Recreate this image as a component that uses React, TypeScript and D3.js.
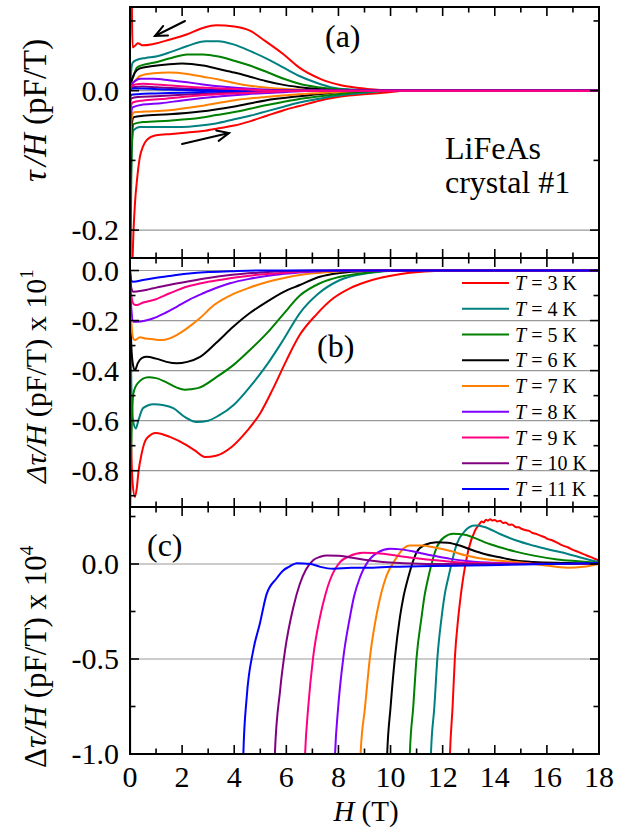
import React from 'react';
import * as d3 from 'd3';

type Pt = [number, number];

// ---- series meta ----
const temps = [3, 4, 5, 6, 7, 8, 9, 10, 11];
const colors = ['#ff0000', '#008080', '#008000', '#000000', '#ff8000', '#8000ff', '#ff0080', '#800080', '#0000ff'];

// ---- panel (a): torque / H, decreasing-field branch ----
const up3: Pt[] = [[0.06, 0.2], [0.075, 0.11], [0.1, 0.062], [0.18, 0.064], [0.3, 0.068], [0.5, 0.065], [0.9, 0.067], [1.5, 0.073], [2.2, 0.081], [2.8, 0.09], [3.3, 0.094], [4.0, 0.092], [4.6, 0.086], [5.2, 0.071], [5.9, 0.052], [6.5, 0.033], [7.3, 0.017], [8.06, 0.008], [9.1, 0.0025], [10.4, 0], [18, 0]];
const up4: Pt[] = [[0, 0], [0.05, 0.03], [0.1, 0.04], [0.25, 0.044], [0.6, 0.047], [1.0, 0.049], [1.6, 0.056], [2.2, 0.064], [2.9, 0.071], [3.4, 0.071], [4.0, 0.066], [4.6, 0.057], [5.3, 0.045], [5.9, 0.033], [6.5, 0.021], [7.1, 0.012], [7.7, 0.005], [8.5, 0.0015], [9.5, 0], [18, 0]];
const up5: Pt[] = [[0, 0], [0.05, 0.012], [0.13, 0.02], [0.26, 0.033], [0.5, 0.037], [0.9, 0.04], [1.5, 0.046], [2.2, 0.052], [2.8, 0.052], [3.4, 0.049], [4.0, 0.043], [4.6, 0.036], [5.3, 0.026], [5.9, 0.017], [6.5, 0.01], [7.2, 0.005], [8.2, 0.0015], [9.2, 0], [18, 0]];
const up6: Pt[] = [[0, 0], [0.05, 0.012], [0.19, 0.026], [0.38, 0.032], [0.8, 0.035], [1.5, 0.038], [2.0, 0.039], [2.8, 0.036], [3.4, 0.031], [4.0, 0.026], [4.6, 0.02], [5.2, 0.014], [5.8, 0.009], [6.5, 0.005], [7.3, 0.002], [8.2, 0], [18, 0]];
const up7: Pt[] = [[0, 0], [0.05, 0.008], [0.19, 0.014], [0.38, 0.021], [0.9, 0.025], [1.5, 0.026], [2.2, 0.024], [2.8, 0.02], [3.4, 0.016], [4.0, 0.011], [4.6, 0.007], [5.4, 0.004], [6.5, 0.0015], [7.5, 0], [18, 0]];
const up8: Pt[] = [[0, 0], [0.05, 0.008], [0.2, 0.014], [0.4, 0.017], [0.9, 0.017], [1.5, 0.015], [2.2, 0.012], [2.8, 0.009], [3.5, 0.006], [4.5, 0.003], [5.5, 0.001], [6.5, 0], [18, 0]];
const up9: Pt[] = [[0, 0], [0.05, 0.006], [0.2, 0.009], [0.5, 0.01], [1.0, 0.009], [1.7, 0.007], [2.5, 0.005], [3.5, 0.003], [4.5, 0.0015], [5.5, 0], [18, 0]];
const up10: Pt[] = [[0, 0], [0.1, 0.005], [0.5, 0.006], [1.0, 0.005], [2.0, 0.003], [3.0, 0.0015], [4.0, 0.0005], [5, 0], [18, 0]];
const up11: Pt[] = [[0, 0], [0.1, 0.003], [0.5, 0.003], [1.5, 0.0015], [3, 0.0005], [4, 0], [18, 0]];

// ---- panel (a): increasing-field branch ----
const lo3: Pt[] = [[0, -0.35], [0.05, -0.3], [0.13, -0.205], [0.19, -0.162], [0.28, -0.124], [0.38, -0.095], [0.5, -0.08], [0.64, -0.071], [1.0, -0.064], [1.6, -0.062], [2.2, -0.06], [2.8, -0.058], [3.4, -0.054], [4.0, -0.05], [4.6, -0.044], [5.25, -0.036], [5.9, -0.028], [6.5, -0.022], [7.3, -0.014], [8.4, -0.007], [9.7, -0.003], [10.6, 0], [18, 0]];
const lo4: Pt[] = [[0, -0.25], [0.03, -0.15], [0.06, -0.09], [0.13, -0.057], [0.38, -0.052], [1.0, -0.052], [2.0, -0.052], [2.7, -0.05], [3.3, -0.047], [4.0, -0.041], [4.6, -0.036], [5.3, -0.029], [5.9, -0.023], [6.5, -0.017], [7.2, -0.012], [8.0, -0.007], [9.0, -0.003], [10, 0], [18, 0]];
const lo5: Pt[] = [[0, -0.3], [0.02, -0.25], [0.05, -0.12], [0.1, -0.055], [0.13, -0.048], [0.5, -0.045], [1.5, -0.043], [2.7, -0.039], [3.3, -0.035], [3.96, -0.031], [4.6, -0.026], [5.2, -0.021], [5.9, -0.016], [6.5, -0.012], [7.3, -0.008], [8.2, -0.004], [9.2, -0.001], [10, 0], [18, 0]];
const lo6: Pt[] = [[0, -0.14], [0.03, -0.08], [0.08, -0.045], [0.15, -0.038], [0.5, -0.036], [1.5, -0.034], [2.7, -0.03], [3.96, -0.023], [5.2, -0.014], [6.5, -0.008], [7.5, -0.004], [8.5, -0.001], [9.5, 0], [18, 0]];
const lo7: Pt[] = [[0, -0.1], [0.03, -0.06], [0.08, -0.035], [0.15, -0.031], [0.6, -0.03], [1.5, -0.028], [2.7, -0.022], [3.96, -0.014], [5.2, -0.009], [6.5, -0.005], [8, -0.002], [9, 0], [18, 0]];
const lo8: Pt[] = [[0, -0.06], [0.04, -0.035], [0.1, -0.024], [0.5, -0.02], [1.2, -0.018], [2.0, -0.014], [2.7, -0.011], [3.5, -0.008], [4.5, -0.005], [6, -0.002], [7, 0], [18, 0]];
const lo9: Pt[] = [[0, -0.04], [0.04, -0.022], [0.1, -0.017], [0.5, -0.014], [1.2, -0.012], [2.0, -0.009], [3, -0.006], [4, -0.004], [5.5, -0.0015], [6.5, 0], [18, 0]];
const lo10: Pt[] = [[0, -0.02], [0.05, -0.011], [0.3, -0.009], [1, -0.008], [2, -0.006], [3, -0.004], [4.5, -0.002], [6, 0], [18, 0]];
const lo11: Pt[] = [[0, -0.01], [0.05, -0.006], [0.3, -0.005], [1, -0.004], [2, -0.003], [3, -0.0015], [4.5, 0], [18, 0]];

// ---- panel (b): hysteresis difference x 10 ----
const b3: Pt[] = [[0, 0], [0.03, -0.6], [0.1, -0.85], [0.19, -0.905], [0.26, -0.87], [0.32, -0.81], [0.45, -0.73], [0.64, -0.671], [1.0, -0.649], [1.53, -0.665], [2.17, -0.698], [2.5, -0.72], [2.88, -0.745], [3.3, -0.74], [3.9, -0.705], [4.5, -0.64], [5.0, -0.57], [5.5, -0.47], [6.0, -0.36], [6.5, -0.26], [7.16, -0.175], [7.8, -0.111], [8.44, -0.071], [9.08, -0.045], [10.4, -0.014], [11.7, -0.002], [12.5, 0], [18, 0]];
const b4: Pt[] = [[0, 0], [0.05, -0.45], [0.12, -0.6], [0.22, -0.631], [0.32, -0.6], [0.5, -0.55], [0.9, -0.534], [1.3, -0.538], [1.66, -0.55], [2.1, -0.585], [2.56, -0.605], [3.0, -0.6], [3.4, -0.58], [4.0, -0.535], [4.6, -0.465], [5.3, -0.37], [5.88, -0.278], [6.52, -0.17], [7.2, -0.095], [8.06, -0.038], [9.1, -0.011], [10.4, 0], [18, 0]];
const b5: Pt[] = [[0, -1.0], [0.05, -0.7], [0.13, -0.491], [0.3, -0.45], [0.7, -0.427], [1.0, -0.43], [1.36, -0.445], [1.8, -0.468], [2.1, -0.476], [2.6, -0.47], [3.33, -0.425], [4.0, -0.375], [4.6, -0.318], [5.3, -0.245], [5.88, -0.175], [6.52, -0.1], [7.29, -0.051], [8.06, -0.025], [9.1, -0.009], [10, 0], [18, 0]];
const b6: Pt[] = [[0, 0], [0.05, -0.3], [0.12, -0.38], [0.19, -0.398], [0.3, -0.37], [0.45, -0.35], [0.64, -0.345], [1.0, -0.352], [1.4, -0.365], [1.79, -0.371], [2.2, -0.365], [2.69, -0.345], [3.3, -0.29], [3.96, -0.225], [4.6, -0.17], [5.25, -0.125], [5.9, -0.085], [6.52, -0.058], [7.29, -0.025], [8.06, -0.01], [9.1, -0.002], [10, 0], [18, 0]];
const b7: Pt[] = [[0, 0], [0.05, -0.2], [0.12, -0.27], [0.19, -0.278], [0.38, -0.267], [0.6, -0.272], [0.9, -0.275], [1.2, -0.278], [1.5, -0.272], [1.79, -0.258], [2.2, -0.23], [2.69, -0.19], [3.2, -0.14], [3.84, -0.1], [4.6, -0.068], [5.3, -0.045], [6.0, -0.028], [6.52, -0.018], [7.5, -0.007], [8.5, -0.002], [9.5, 0], [18, 0]];
const b8: Pt[] = [[0, 0], [0.05, -0.15], [0.13, -0.205], [0.3, -0.205], [0.6, -0.2], [0.9, -0.191], [1.3, -0.172], [1.79, -0.145], [2.3, -0.115], [2.81, -0.091], [3.3, -0.07], [3.84, -0.051], [4.6, -0.033], [5.5, -0.018], [6.5, -0.008], [7.5, -0.002], [8.5, 0], [18, 0]];
const b9: Pt[] = [[0, 0], [0.05, -0.1], [0.15, -0.135], [0.26, -0.138], [0.5, -0.128], [0.9, -0.118], [1.5, -0.092], [2.17, -0.065], [3.0, -0.045], [3.84, -0.031], [4.8, -0.018], [6, -0.008], [7, -0.002], [8, 0], [18, 0]];
const b10: Pt[] = [[0, 0], [0.05, -0.07], [0.13, -0.085], [0.5, -0.08], [0.9, -0.071], [1.5, -0.058], [2.17, -0.045], [3.0, -0.03], [3.84, -0.018], [5, -0.008], [6, -0.002], [7, 0], [18, 0]];
const b11: Pt[] = [[0, 0], [0.05, -0.04], [0.13, -0.045], [0.5, -0.038], [0.9, -0.031], [1.5, -0.022], [2.17, -0.013], [3.0, -0.006], [3.84, -0.003], [5, 0], [18, 0]];

// ---- panel (c): difference x 10^4 near the irreversibility field ----
const c3: Pt[] = [[0, 0.5], [0.02, -5], [12.22, -1.3], [12.28, -1.0], [12.38, -0.754], [12.47, -0.49], [12.6, -0.28], [12.7, -0.16], [12.79, -0.07], [12.98, 0.07], [13.24, 0.175], [13.4, 0.208], [13.5, 0.224], [13.58, 0.219], [13.66, 0.233], [13.74, 0.228], [13.82, 0.236], [13.9, 0.229], [14.0, 0.232], [14.1, 0.224], [14.2, 0.227], [14.32, 0.216], [14.42, 0.219], [14.55, 0.206], [14.66, 0.208], [14.8, 0.195], [14.92, 0.193], [15.05, 0.184], [15.2, 0.178], [15.32, 0.174], [15.45, 0.163], [15.6, 0.158], [15.75, 0.149], [15.9, 0.142], [16.05, 0.131], [16.2, 0.125], [16.4, 0.112], [16.6, 0.098], [16.8, 0.088], [17.0, 0.074], [17.2, 0.064], [17.4, 0.052], [17.6, 0.041], [17.8, 0.03], [18, 0.018]];
const c4: Pt[] = [[11.5, -1.3], [11.55, -1.0], [11.68, -0.754], [11.8, -0.49], [11.96, -0.28], [12.08, -0.16], [12.22, -0.07], [12.54, 0.105], [12.86, 0.175], [13.24, 0.202], [13.6, 0.195], [14.2, 0.158], [14.8, 0.125], [15.5, 0.096], [16.1, 0.075], [16.8, 0.053], [17.4, 0.03], [18, 0.009]];
const c5: Pt[] = [[10.68, -1.3], [10.74, -1.0], [10.87, -0.754], [11.0, -0.49], [11.19, -0.28], [11.3, -0.17], [11.45, -0.07], [11.77, 0.088], [12.05, 0.14], [12.41, 0.159], [12.8, 0.155], [13.17, 0.14], [13.6, 0.115], [14.2, 0.088], [14.8, 0.065], [15.5, 0.044], [16.4, 0.024], [17.2, 0.014], [18, 0.005]];
const c6: Pt[] = [[9.8, -1.3], [9.87, -1.0], [10.0, -0.754], [10.17, -0.49], [10.36, -0.28], [10.5, -0.17], [10.68, -0.07], [11.0, 0.062], [11.3, 0.1], [11.77, 0.115], [12.2, 0.112], [12.66, 0.097], [13.1, 0.075], [13.6, 0.053], [14.2, 0.035], [14.8, 0.018], [15.5, 0.01], [16.8, 0.005], [18, 0]];
const c7: Pt[] = [[8.78, -1.3], [8.85, -1.0], [9.02, -0.754], [9.21, -0.49], [9.47, -0.262], [9.65, -0.15], [9.85, -0.06], [10.2, 0.027], [10.45, 0.075], [10.74, 0.097], [11.2, 0.097], [11.64, 0.088], [12.3, 0.068], [12.9, 0.045], [13.8, 0.022], [14.8, 0.01], [15.8, -0.005], [16.8, -0.02], [17.4, -0.015], [18, 0]];
const c8: Pt[] = [[7.8, -1.3], [7.87, -1.0], [7.99, -0.754], [8.19, -0.49], [8.44, -0.28], [8.6, -0.17], [8.83, -0.069], [9.21, 0.027], [9.5, 0.06], [9.98, 0.08], [10.4, 0.077], [11, 0.062], [11.6, 0.045], [12.3, 0.027], [13, 0.015], [14.2, 0.005], [15.5, 0], [18, 0]];
const c9: Pt[] = [[6.65, -1.3], [6.72, -1.0], [6.84, -0.754], [7.03, -0.49], [7.29, -0.28], [7.5, -0.16], [7.67, -0.087], [8.06, 0.01], [8.4, 0.04], [8.95, 0.059], [9.72, 0.054], [10.3, 0.042], [11, 0.03], [12.3, 0.012], [14, 0.003], [18, 0]];
const c10: Pt[] = [[5.5, -1.3], [5.56, -1.0], [5.76, -0.666], [5.95, -0.455], [6.27, -0.227], [6.52, -0.104], [6.75, -0.03], [7.03, 0.02], [7.3, 0.038], [7.55, 0.045], [8.0, 0.043], [8.4, 0.036], [9.0, 0.022], [9.7, 0.01], [10.5, 0.004], [11.6, 0], [18, 0]];
const c11: Pt[] = [[4.3, -1.3], [4.35, -1.0], [4.48, -0.7], [4.73, -0.455], [4.99, -0.31], [5.24, -0.16], [5.63, -0.075], [5.88, -0.034], [6.1, -0.015], [6.4, 0.004], [6.93, 0.0], [7.3, -0.015], [7.8, -0.025], [8.5, -0.02], [9.08, -0.02], [10, -0.015], [11.6, -0.01], [13, -0.008], [14.2, -0.005], [16, 0.0], [18, 0.005]];

const upperA = [up3, up4, up5, up6, up7, up8, up9, up10, up11];
const lowerA = [lo3, lo4, lo5, lo6, lo7, lo8, lo9, lo10, lo11];
const seriesB = [b3, b4, b5, b6, b7, b8, b9, b10, b11];
const seriesC = [c3, c4, c5, c6, c7, c8, c9, c10, c11];

// ---- axis ticks ----
const xMajor = [0, 2, 4, 6, 8, 10, 12, 14, 16, 18];
const xMinor = [1, 3, 5, 7, 9, 11, 13, 15, 17];
const aMajor = [0, -0.2];
const aMinor = [0.1, -0.1];
const aLabels = ['0.0', '-0.2'];
const bMajor = [0, -0.2, -0.4, -0.6, -0.8];
const bMinor = [-0.1, -0.3, -0.5, -0.7, -0.9];
const bLabels = ['0.0', '-0.2', '-0.4', '-0.6', '-0.8'];
const cMajor = [0, -0.5, -1.0];
const cMinor = [0.25, -0.25, -0.75];
const cLabels = ['0.0', '-0.5', '-1.0'];

const W = 626;
const H = 831;
const left = 130;
const right = 599;
const FONT = '"Liberation Serif", "Times New Roman", serif';

const x = d3.scaleLinear().domain([0, 18]).range([left, right]);
const yA = d3.scaleLinear().domain([-0.24, 0.12]).range([258, 7]);
const yB = d3.scaleLinear().domain([-0.945, 0.05]).range([507, 258]);
const yC = d3.scaleLinear().domain([-1.0, 0.3]).range([754, 507]);

function pathFor(data: Pt[], y: d3.ScaleLinear<number, number>) {
  const gen = d3
    .line<Pt>()
    .x((d) => x(d[0]))
    .y((d) => y(d[1]))
    .curve(d3.curveMonotoneX);
  return gen(data) || '';
}

type PanelProps = {
  id: string;
  y: d3.ScaleLinear<number, number>;
  major: number[];
  minor: number[];
  labels: string[];
  grid: number[];
  children?: React.ReactNode;
  showX?: boolean;
};

function Panel({ id, y, major, minor, labels, grid, children, showX }: PanelProps) {
  const [y0, y1] = y.range();
  const top = Math.min(y0, y1);
  const bottom = Math.max(y0, y1);
  const MAJ = 9;
  const MIN = 5.5;
  return (
    <g>
      <defs>
        <clipPath id={`clip-${id}`}>
          <rect x={left} y={top} width={right - left} height={bottom - top} />
        </clipPath>
      </defs>
      {grid.map((g) => (
        <line key={`g${g}`} x1={left} x2={right} y1={y(g)} y2={y(g)} stroke="#9a9a9a" strokeWidth={1.2} />
      ))}
      <g clipPath={`url(#clip-${id})`}>{children}</g>
      {xMajor.map((t) => (
        <g key={`xM${t}`}>
          <line x1={x(t)} x2={x(t)} y1={top} y2={top + MAJ} stroke="#000" strokeWidth={1.6} />
          <line x1={x(t)} x2={x(t)} y1={bottom} y2={bottom - MAJ} stroke="#000" strokeWidth={1.6} />
        </g>
      ))}
      {xMinor.map((t) => (
        <g key={`xm${t}`}>
          <line x1={x(t)} x2={x(t)} y1={top} y2={top + MIN} stroke="#000" strokeWidth={1.6} />
          <line x1={x(t)} x2={x(t)} y1={bottom} y2={bottom - MIN} stroke="#000" strokeWidth={1.6} />
        </g>
      ))}
      {major.map((t) => (
        <g key={`yM${t}`}>
          <line x1={left} x2={left + MAJ} y1={y(t)} y2={y(t)} stroke="#000" strokeWidth={1.6} />
          <line x1={right} x2={right - MAJ} y1={y(t)} y2={y(t)} stroke="#000" strokeWidth={1.6} />
        </g>
      ))}
      {minor.map((t) => (
        <g key={`ym${t}`}>
          <line x1={left} x2={left + MIN} y1={y(t)} y2={y(t)} stroke="#000" strokeWidth={1.6} />
          <line x1={right} x2={right - MIN} y1={y(t)} y2={y(t)} stroke="#000" strokeWidth={1.6} />
        </g>
      ))}
      {major.map((t, i) => (
        <text key={`yl${t}`} x={119} y={y(t)} dy="0.34em" textAnchor="end" fontSize={30} fontFamily={FONT}>
          {labels[i]}
        </text>
      ))}
      {showX &&
        xMajor.map((t) => (
          <text key={`xl${t}`} x={x(t)} y={787} textAnchor="middle" fontSize={30} fontFamily={FONT}>
            {t}
          </text>
        ))}
      <rect x={left} y={top} width={right - left} height={bottom - top} fill="none" stroke="#000" strokeWidth={2} />
    </g>
  );
}

function Arrow({ x1, y1, x2, y2 }: { x1: number; y1: number; x2: number; y2: number }) {
  const ang = Math.atan2(y2 - y1, x2 - x1);
  const len = 13;
  const spread = 0.42;
  const h1: Pt = [x2 - len * Math.cos(ang - spread), y2 - len * Math.sin(ang - spread)];
  const h2: Pt = [x2 - len * Math.cos(ang + spread), y2 - len * Math.sin(ang + spread)];
  return (
    <g stroke="#000" strokeWidth={2} fill="none" strokeLinecap="round">
      <line x1={x1} y1={y1} x2={x2} y2={y2} />
      <polyline points={`${h1[0]},${h1[1]} ${x2},${y2} ${h2[0]},${h2[1]}`} />
    </g>
  );
}

const drawOrderA = [0, 1, 2, 3, 4, 5, 7, 8, 6];

export default function App() {
  const legendX1 = 462;
  const legendX2 = 509;
  const legendY0 = 283;
  const legendStep = 25.75;
  return (
    <svg width={W} height={H} style={{ position: 'absolute', left: 0, top: 0, background: '#fff' }} fontFamily={FONT}>
      <rect x={0} y={0} width={W} height={H} fill="#fff" />

      {/* panel (a) */}
      <Panel id="a" y={yA} major={aMajor} minor={aMinor} labels={aLabels} grid={[0, -0.2]}>
        {drawOrderA.map((i) => (
          <g key={`a${i}`}>
            <path d={pathFor(lowerA[i], yA)} fill="none" stroke={colors[i]} strokeWidth={2} />
            <path d={pathFor(upperA[i], yA)} fill="none" stroke={colors[i]} strokeWidth={2} />
          </g>
        ))}
      </Panel>

      {/* panel (b) */}
      <Panel id="b" y={yB} major={bMajor} minor={bMinor} labels={bLabels} grid={[0, -0.2, -0.4, -0.6, -0.8]}>
        {seriesB.map((s, i) => (
          <path key={`b${i}`} d={pathFor(s, yB)} fill="none" stroke={colors[i]} strokeWidth={2} />
        ))}
      </Panel>

      {/* panel (c) */}
      <Panel id="c" y={yC} major={cMajor} minor={cMinor} labels={cLabels} grid={[0, -0.5]} showX>
        {seriesC.map((s, i) => (
          <path key={`c${i}`} d={pathFor(s, yC)} fill="none" stroke={colors[i]} strokeWidth={2} />
        ))}
      </Panel>

      {/* sweep direction arrows */}
      <Arrow x1={185} y1={21} x2={155} y2={36} />
      <Arrow x1={182} y1={144} x2={229} y2={133} />

      {/* panel letters and sample note */}
      <text x={325} y={47} fontSize={32}>(a)</text>
      <text x={317} y={357} fontSize={32}>(b)</text>
      <text x={147} y={556} fontSize={32}>(c)</text>
      <text x={445} y={159} fontSize={32}>LiFeAs</text>
      <text x={445} y={193} fontSize={32}>crystal #1</text>

      {/* legend */}
      {temps.map((t, i) => {
        const yy = legendY0 + i * legendStep;
        return (
          <g key={`lg${t}`}>
            <line x1={legendX1} x2={legendX2} y1={yy} y2={yy} stroke={colors[i]} strokeWidth={2} />
            <text x={515} y={yy + 7} fontSize={20}>
              <tspan fontStyle="italic">T</tspan> = {t} K
            </text>
          </g>
        );
      })}

      {/* axis titles */}
      <text transform="translate(46,182) rotate(-90)" fontSize={33}>
        <tspan fontStyle="italic">τ</tspan>
        <tspan dx={4} fontStyle="italic">/H</tspan>
        <tspan> (pF/T)</tspan>
      </text>
      <text transform="translate(46,483) rotate(-90)" fontSize={30}>
        <tspan fontStyle="italic">Δτ/H</tspan>
        <tspan> (pF/T) x 10</tspan>
        <tspan fontSize={19} dy={-13}>1</tspan>
      </text>
      <text transform="translate(46,768) rotate(-90)" fontSize={31}>
        <tspan>Δ</tspan>
        <tspan fontStyle="italic">τ/H</tspan>
        <tspan> (pF/T) x 10</tspan>
        <tspan fontSize={19} dy={-13}>4</tspan>
      </text>
      <text x={366} y={821} textAnchor="middle" fontSize={29}>
        <tspan fontStyle="italic">H</tspan> (T)
      </text>
    </svg>
  );
}
